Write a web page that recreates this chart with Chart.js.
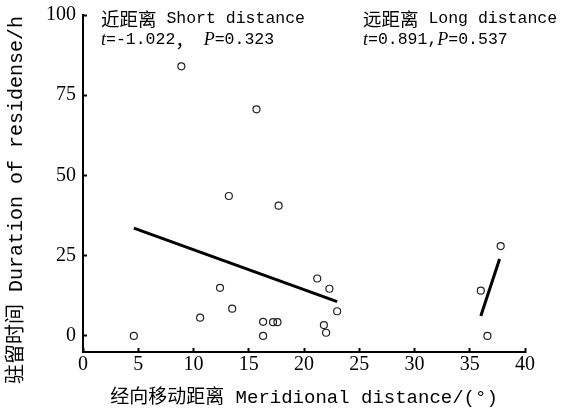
<!DOCTYPE html>
<html>
<head>
<meta charset="utf-8">
<script src="https://cdn.jsdelivr.net/npm/chart.js@4.4.0/dist/chart.umd.min.js"></script>
<style>
  body { margin: 0; background: #fff; }
  #wrap { width: 570px; height: 411px; }
</style>
</head>
<body>
<div id="wrap"><canvas id="myChart" width="570" height="411"></canvas></div>
<script>
// short distance group (meridional distance, hours)
const shortX = [4.6, 8.9, 10.6, 12.4, 13.2, 13.5, 15.7, 16.3, 16.3, 17.2, 17.6, 17.7, 21.2, 21.8, 22.0, 22.3, 23.0];
const shortY = [0, 84, 5.7, 15.0, 43.6, 8.5, 70.6, 4.4, 0, 4.3, 4.3, 40.6, 17.9, 3.4, 1.0, 14.7, 7.7];
// long distance group
const longX = [36.0, 36.6, 37.8];
const longY = [14.1, 0, 28.0];
// fitted lines
const shortFitX = [4.6, 23.0];
const shortFitY = [33.6, 10.7];
const longFitX = [36.0, 37.7];
const longFitY = [6.2, 24.0];

const xTicks = [0, 5, 10, 15, 20, 25, 30, 35, 40];
const yTicks = [0, 25, 50, 75, 100];

const yTitle = '驻留时间 Duration of residense/h';
const groupTitles = [['近距离', ' Short distance'], ['远距离', ' Long distance']];
const groupStats = [
    [['t', 'i'], ['=-1.022', 'm'], ['，', 'c'], [' ', 'm'], ['P', 'i'], ['=0.323', 'm']],
    [['t', 'i'], ['=0.891,', 'm'], ['P', 'i'], ['=0.537', 'm']]
];

const MONO = '"Liberation Mono", "Noto Sans CJK SC", monospace';
const SERIF = '"Liberation Serif", serif';
const CJK = '"Noto Sans CJK SC", sans-serif';
const runFonts = {
    i: 'italic 18px ' + SERIF,
    m: '16.5px ' + MONO,
    c: '18.5px ' + CJK
};

const toPoints = (xs, ys) => xs.map((x, i) => ({x: x, y: ys[i]}));

function drawRuns(ctx, runs, x, y) {
    runs.forEach(([s, f]) => {
        ctx.font = runFonts[f];
        ctx.fillText(s, x, y);
        x += ctx.measureText(s).width;
    });
}

const groupText = {
    id: 'groupText',
    afterDatasetsDraw(chart) {
        const {ctx, chartArea} = chart;
        const cols = [chartArea.left + 18, chartArea.left + 280];
        ctx.save();
        ctx.fillStyle = '#000';
        ctx.textBaseline = 'middle';
        cols.forEach((x0, i) => {
            drawRuns(ctx, [[groupTitles[i][0], 'c'], [groupTitles[i][1], 'm']], x0, chartArea.top + 4);
            drawRuns(ctx, groupStats[i], x0, chartArea.top + 25);
        });
        // y axis title
        ctx.translate(17, chartArea.top + 185);
        ctx.rotate(-Math.PI / 2);
        ctx.textAlign = 'center';
        ctx.font = '20px ' + MONO;
        ctx.fillText(yTitle, 0, 0);
        ctx.restore();
    }
};

const pointStyle = {
    pointStyle: 'circle',
    pointRadius: 3.5,
    borderColor: '#222',
    backgroundColor: 'rgba(0,0,0,0)',
    borderWidth: 1.2,
    showLine: false
};

const data = {
    datasets: [
        Object.assign({label: 'Short', data: toPoints(shortX, shortY)}, pointStyle),
        Object.assign({label: 'Long', data: toPoints(longX, longY)}, pointStyle),
        {label: 'Short fit', data: toPoints(shortFitX, shortFitY), showLine: true, borderColor: '#000', borderWidth: 3, pointRadius: 0},
        {label: 'Long fit', data: toPoints(longFitX, longFitY), showLine: true, borderColor: '#000', borderWidth: 3, pointRadius: 0}
    ]
};

const config = {
    type: 'scatter',
    data: data,
    options: {
        responsive: false,
        animation: false,
        layout: {padding: {top: 15, right: 45, left: 0, bottom: 0}},
        plugins: {
            legend: {display: false},
            tooltip: {enabled: false}
        },
        scales: {
            x: {
                type: 'linear',
                min: 0,
                max: 40,
                afterBuildTicks: s => { s.ticks = xTicks.map(v => ({value: v})); },
                afterFit: s => { s.height = 59; s.paddingLeft = 0; s.paddingRight = 0; },
                border: {display: true, color: '#000', width: 2},
                grid: {drawOnChartArea: false, drawTicks: true, tickLength: -4, tickWidth: 2, tickColor: '#000'},
                ticks: {color: '#000', font: {family: SERIF, size: 20}, padding: 5, maxRotation: 0, autoSkip: false},
                title: {
                    display: true,
                    text: '经向移动距离 Meridional distance/(°)',
                    color: '#000',
                    font: {family: MONO, size: 19},
                    padding: {top: 0, bottom: 2}
                }
            },
            y: {
                type: 'linear',
                min: -5,
                max: 100,
                afterBuildTicks: s => { s.ticks = yTicks.map(v => ({value: v})); },
                afterFit: s => { s.width = 83; s.paddingTop = 0; s.paddingBottom = 0; },
                border: {display: true, color: '#000', width: 2},
                grid: {drawOnChartArea: false, drawTicks: true, tickLength: -4, tickWidth: 2, tickColor: '#000'},
                ticks: {color: '#000', font: {family: SERIF, size: 20}, padding: 11, autoSkip: false}
            }
        }
    },
    plugins: [groupText]
};

const myChart = new Chart(document.getElementById('myChart'), config);
</script>
</body>
</html>
